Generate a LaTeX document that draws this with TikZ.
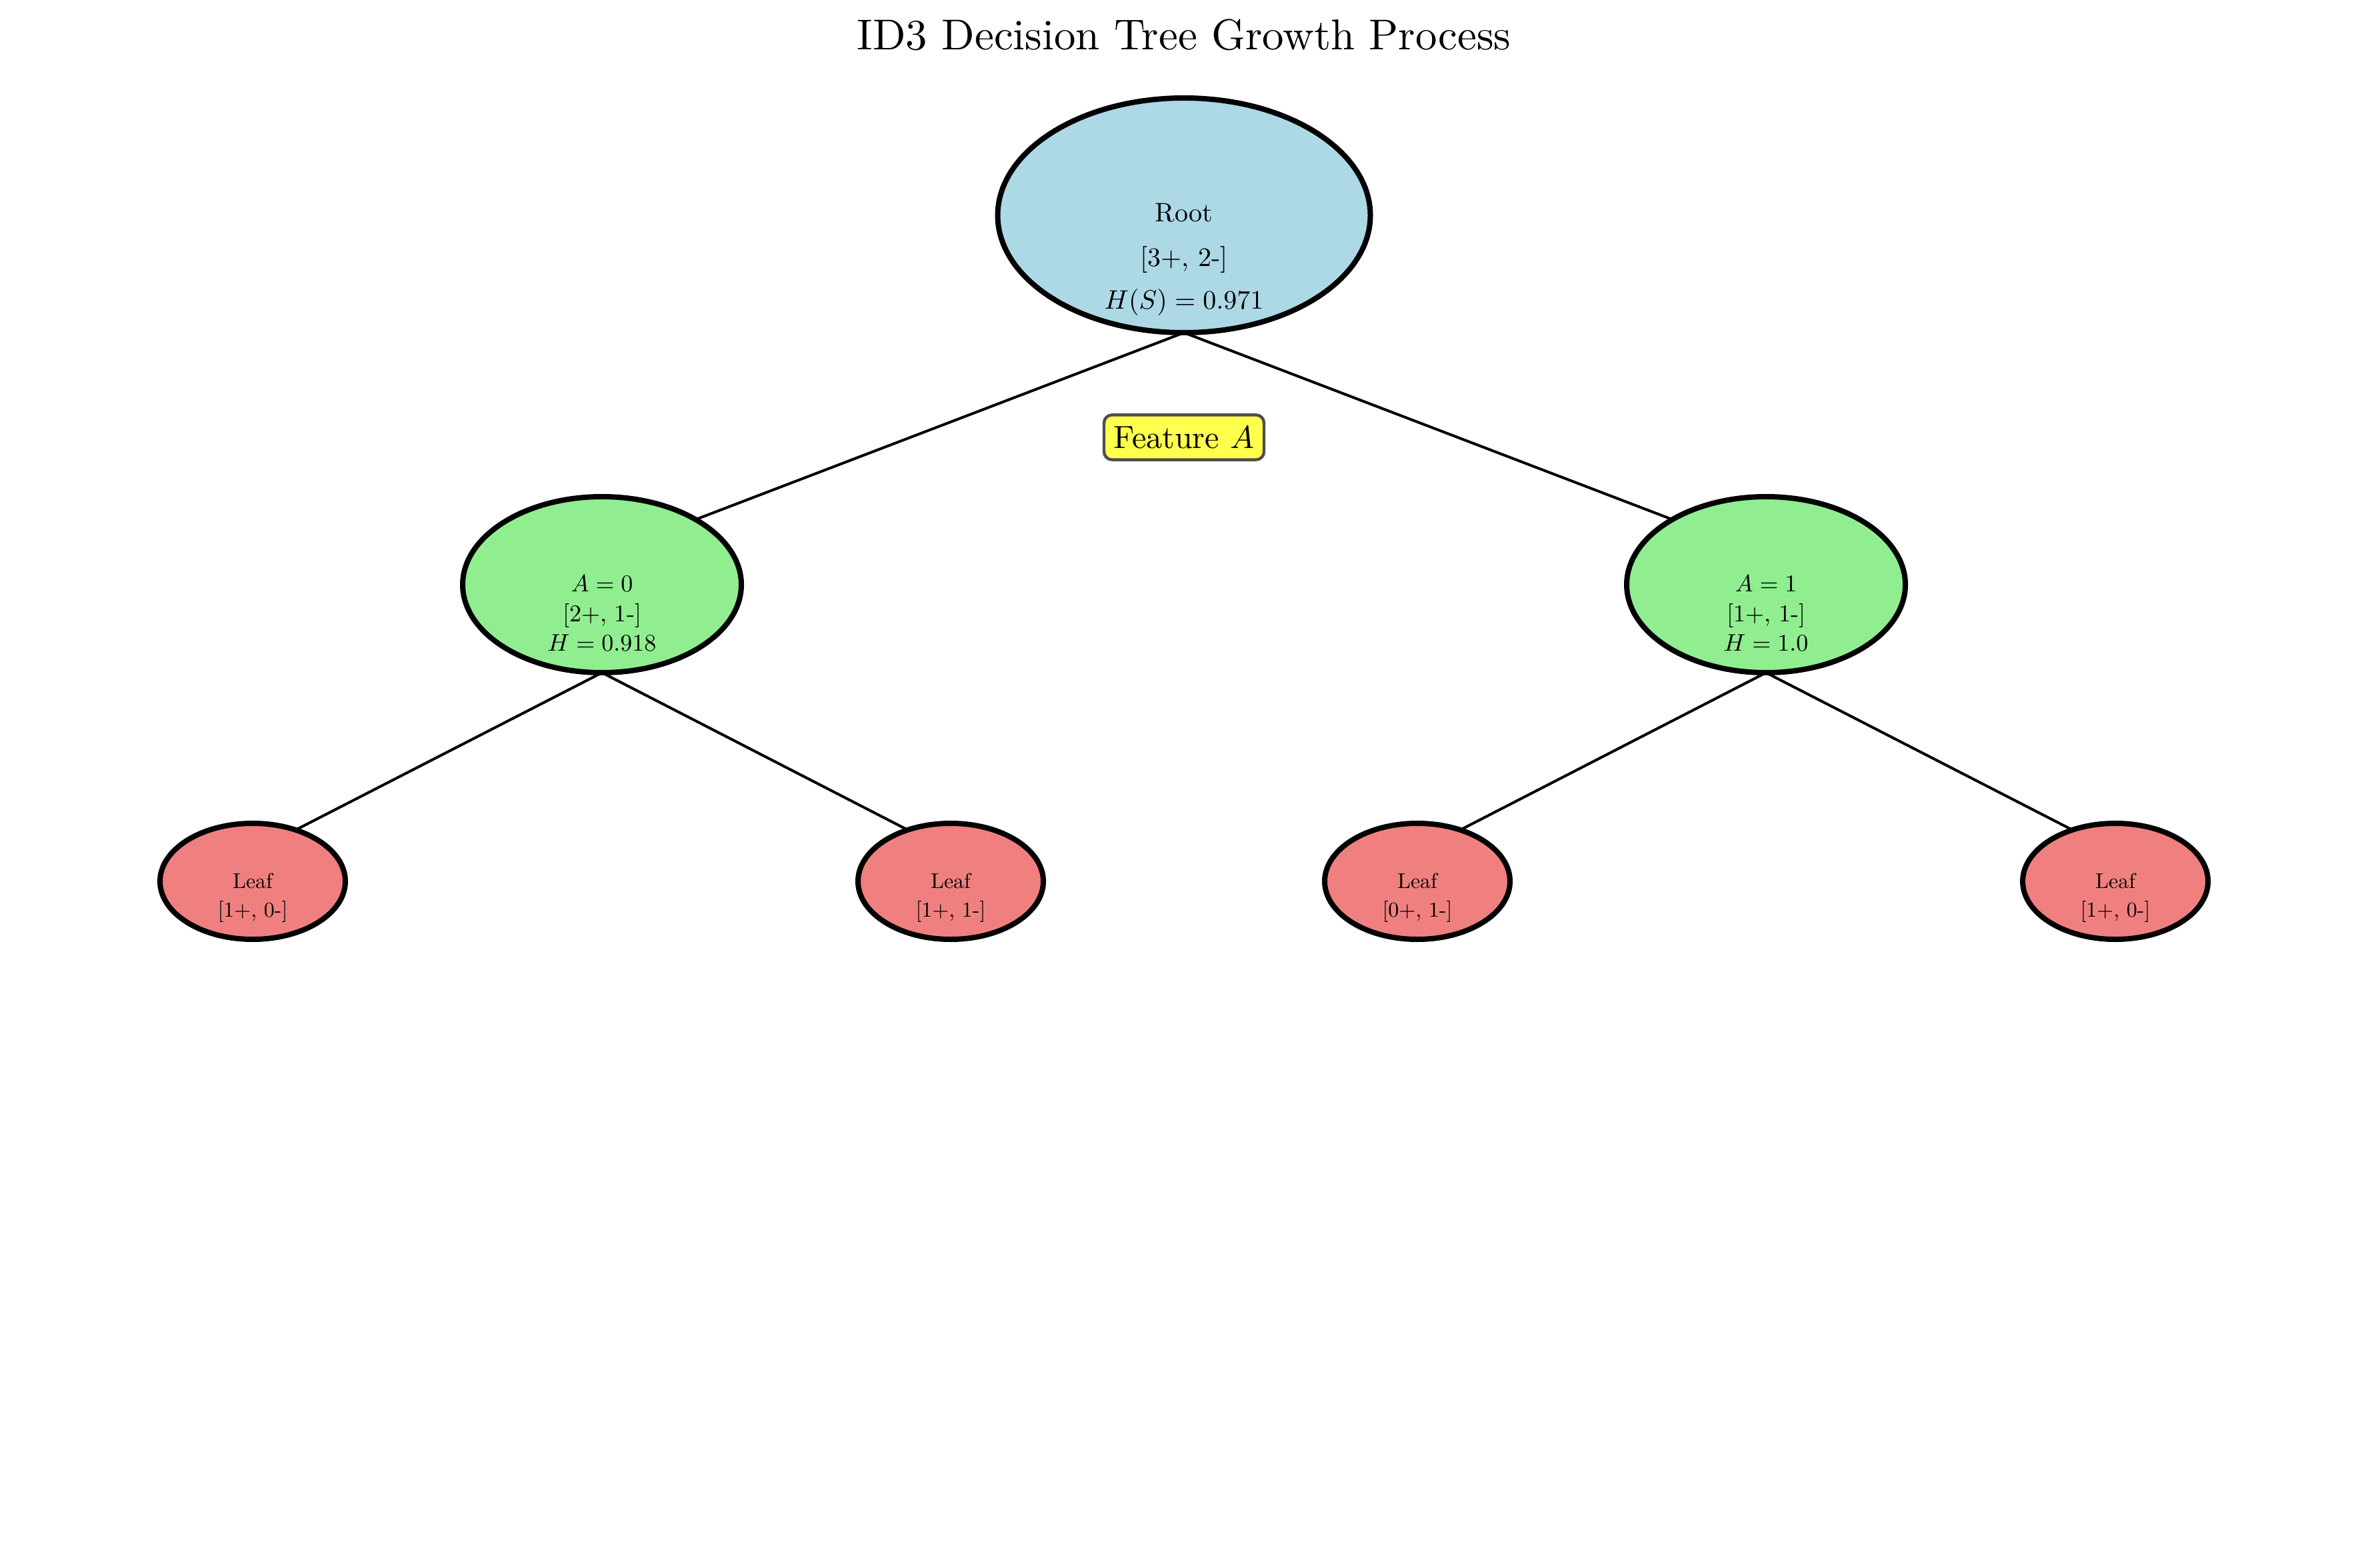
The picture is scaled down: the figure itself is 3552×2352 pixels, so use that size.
\documentclass[tikz,border=0pt]{standalone}
\usepackage{fontspec}
\setmainfont{lmroman10-regular.otf}[ItalicFont=lmroman10-italic.otf, BoldFont=lmroman10-bold.otf]
\DeclareFontShape{OML}{cmm}{m}{it}{<->cmmi10}{}
\DeclareFontShape{OT1}{cmr}{m}{n}{<->cmr10}{}
\DeclareFontShape{OMS}{cmsy}{m}{n}{<->cmsy10}{}
\usetikzlibrary{shapes.geometric}
\pgfdeclarelayer{bg}
\pgfsetlayers{bg,main}
\definecolor{rootblue}{HTML}{ADD8E6}
\definecolor{midgreen}{HTML}{90EE90}
\definecolor{leafred}{HTML}{F08080}
\definecolor{featyellow}{HTML}{FFFF4D}
\definecolor{featedge}{HTML}{4D4D4D}
\begin{document}
\begin{tikzpicture}[x=0.25pt,y=-0.25pt,
  tnode/.style={ellipse, draw=black, line width=2pt, inner sep=0pt, outer sep=0pt},
  rootnode/.style={tnode, fill=rootblue, minimum width=139.75pt, minimum height=88pt},
  midnode/.style={tnode, fill=midgreen, minimum width=104.5pt, minimum height=66pt},
  leafnode/.style={tnode, fill=leafred, minimum width=69.5pt, minimum height=43.5pt},
  rtxt/.style={anchor=base, inner sep=0pt, font=\fontsize{10}{12}\selectfont},
  mtxt/.style={anchor=base, inner sep=0pt, font=\fontsize{9}{11}\selectfont},
  ltxt/.style={anchor=base, inner sep=0pt, font=\fontsize{8}{10}\selectfont},
  featbox/.style={draw=featedge, fill=featyellow, line width=1.1pt, rounded corners=3pt,
    inner sep=0pt, minimum width=60pt, minimum height=16.8pt, font=\fontsize{12}{14}\selectfont},
  edgeline/.style={line width=1pt, black}]
\useasboundingbox (0,0) rectangle (3552,2352);
% title
\node[anchor=base, inner sep=0pt, font=\fontsize{16.2}{19}\selectfont] (title) at (1776,75) {ID3 Decision Tree Growth Process};
% root
\node[rootnode] (root) at (1776,323) {};
\node[rtxt] (rootA) at (1776,333) {Root};
\node[rtxt] (rootB) at (1776,400) {[3+, 2-]};
\node[rtxt] (rootC) at (1776,464) {$H(S) = 0.971$};
% feature label
\node[featbox] (feat) at (1776,656) {Feature $A$};
% level 1
\node[midnode] (a0) at (903,877) {};
\node[mtxt] (a0A) at (903,888) {$A = 0$};
\node[mtxt] (a0B) at (903,932) {[2+, 1-]};
\node[mtxt] (a0C) at (903,976) {$H = 0.918$};
\node[midnode] (a1) at (2649,877) {};
\node[mtxt] (a1A) at (2649,888) {$A = 1$};
\node[mtxt] (a1B) at (2649,932) {[1+, 1-]};
\node[mtxt] (a1C) at (2649,976) {$H = 1.0$};
% leaves
\node[leafnode] (l1) at (379,1322) {};
\node[ltxt] (l1A) at (379,1332) {Leaf};
\node[ltxt] (l1B) at (379,1375) {[1+, 0-]};
\node[leafnode] (l2) at (1426,1322) {};
\node[ltxt] (l2A) at (1426,1332) {Leaf};
\node[ltxt] (l2B) at (1426,1375) {[1+, 1-]};
\node[leafnode] (l3) at (2126,1322) {};
\node[ltxt] (l3A) at (2126,1332) {Leaf};
\node[ltxt] (l3B) at (2126,1375) {[0+, 1-]};
\node[leafnode] (l4) at (3173,1322) {};
\node[ltxt] (l4A) at (3173,1332) {Leaf};
\node[ltxt] (l4B) at (3173,1375) {[1+, 0-]};
% edges
\begin{pgfonlayer}{bg}
\draw[edgeline] (root.south) -- ([yshift=11pt]a0.center);
\draw[edgeline] (root.south) -- ([yshift=11pt]a1.center);
\draw[edgeline] (a0.south) -- ([yshift=11pt]l1.center);
\draw[edgeline] (a0.south) -- ([yshift=11pt]l2.center);
\draw[edgeline] (a1.south) -- ([yshift=11pt]l3.center);
\draw[edgeline] (a1.south) -- ([yshift=11pt]l4.center);
\end{pgfonlayer}
\end{tikzpicture}
\end{document}
